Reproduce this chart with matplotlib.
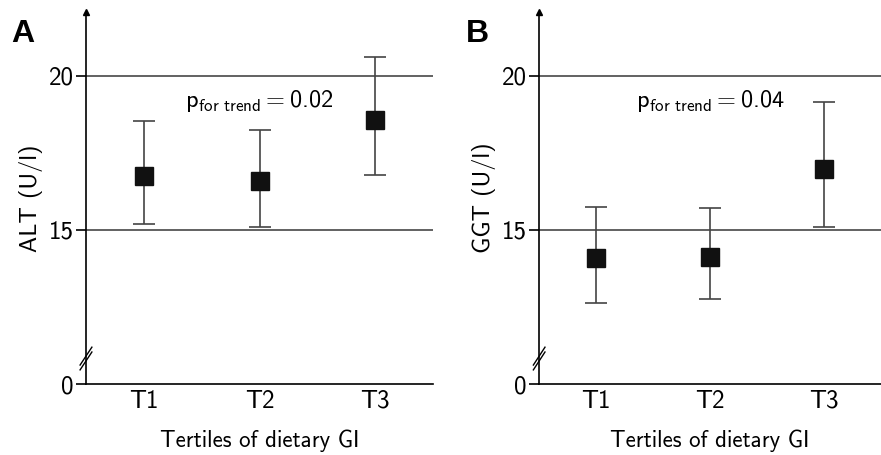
import numpy as np
import matplotlib.pyplot as plt

# --- data
tertiles = ['T1', 'T2', 'T3']
alt_mean = [16.75, 16.59, 18.57]
alt_low = [15.19, 15.10, 16.79]
alt_high = [18.54, 18.25, 20.62]
ggt_mean = [14.09, 14.12, 16.98]
ggt_low = [12.63, 12.76, 15.10]
ggt_high = [15.75, 15.71, 19.16]

# axis break: the bottom of the axis (real value 0) is drawn at 10
y_bottom = 10
y_top = 22.08

plt.rcParams['font.family'] = ['cmss10', 'DejaVu Sans']
plt.rcParams['mathtext.fontset'] = 'cm'
plt.rcParams['axes.formatter.use_mathtext'] = True
fig = plt.figure(figsize=(8.81, 4.55), dpi=100)

panels = [
    (0.0976, 0.394, 'A', 'ALT (U/l)', alt_mean, alt_low, alt_high, '0.02'),
    (0.612, 0.388, 'B', 'GGT (U/l)', ggt_mean, ggt_low, ggt_high, '0.04'),
]

for left, width, letter, ylab, mean, low, high, pval in panels:
    ax = fig.add_axes([left, 0.156, width, 0.818])
    x = np.arange(1, len(tertiles) + 1)
    mean = np.array(mean)
    yerr = [mean - np.array(low), np.array(high) - mean]

    # reference lines
    for yl in (15, 20):
        ax.axhline(yl, color='#555555', lw=1.3, zorder=1)

    ax.errorbar(x, mean, yerr=yerr, fmt='none', ecolor='#444444',
                elinewidth=1.2, capsize=8, capthick=1.2, zorder=2)
    ax.plot(x, mean, 's', color='#111111', ms=13, zorder=3)

    ax.set_xlim(0.5, 3.5)
    ax.set_ylim(y_bottom, y_top)
    ax.set_xticks(x)
    ax.set_xticklabels(tertiles)
    ax.set_yticks([10, 15, 20])
    ax.set_yticklabels(['0', '15', '20'])
    ax.tick_params(axis='x', length=0, labelsize=18, pad=4)
    ax.tick_params(axis='y', length=7, width=1.2, labelsize=18, pad=2)

    for s in ('top', 'right'):
        ax.spines[s].set_visible(False)
    ax.spines['left'].set_linewidth(1.2)
    ax.spines['bottom'].set_linewidth(1.2)

    # arrow on top of y axis
    ax.plot(0, 1, '^', color='black', ms=5, transform=ax.transAxes,
            clip_on=False)

    # break marks on y axis
    for dy in (0.062, 0.075):
        ax.plot([-0.017, 0.017], [dy - 0.024, dy + 0.024], color='black',
                lw=1, transform=ax.transAxes, clip_on=False)

    ax.set_xlabel('Tertiles of dietary GI', fontsize=16.5, labelpad=12)
    ax.set_ylabel(ylab, fontsize=17.5, labelpad=4)
    ax.text(2.0, 19.2, r'p$_{\mathsf{for\ trend}} = $' + pval,
            fontsize=17.5, ha='center', va='center')

    ax.text(-0.215, 0.94, letter, transform=ax.transAxes, fontsize=23,
            fontweight='bold', family='Liberation Sans',
            ha='left', va='center')

fig.savefig('out.png', dpi=100)
